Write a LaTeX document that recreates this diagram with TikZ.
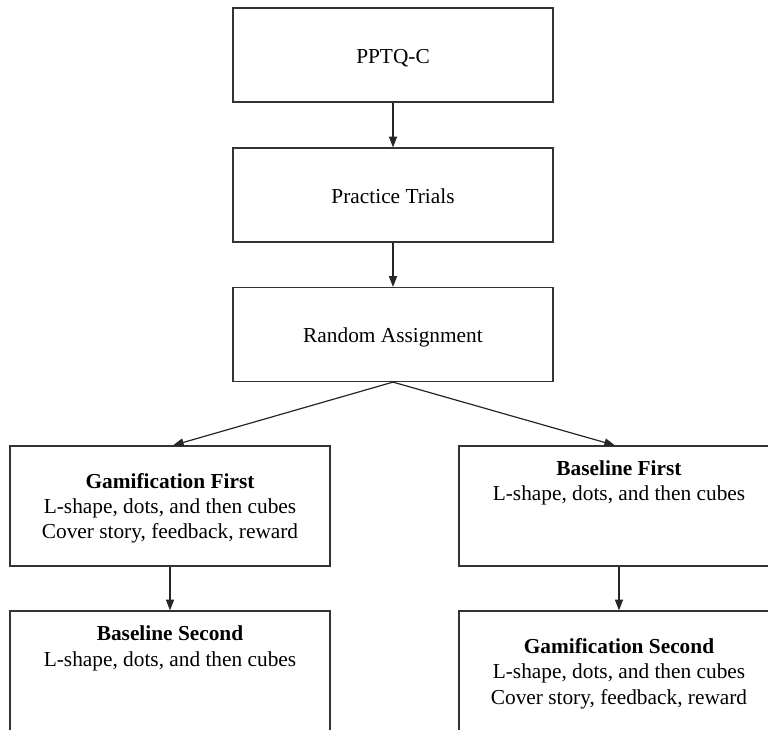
\documentclass[tikz,border=0pt]{standalone}
\usepackage{fontspec}
\setmainfont{Liberation Serif}
\usetikzlibrary{arrows.meta}
\begin{document}
\begin{tikzpicture}[x=0.75pt,y=-0.75pt,
  box/.style={draw=black!80,line width=0.9pt,fill=white,inner sep=0pt,minimum width=240pt},
  topbox/.style={box,minimum height=70.5pt},
  sidebox/.style={box,minimum height=90pt},
  lowbox/.style={box,minimum height=120pt},
  txt/.style={anchor=base,inner sep=0pt,font=\fontsize{16pt}{19pt}\selectfont},
  arr/.style={draw=black!85,line width=0.9pt,-{Triangle[length=8pt,width=6pt]}}]
\clip (0,0) rectangle (768,730);
\fill[white] (0,0) rectangle (768,730);
% boxes
\node[topbox] (pptq) at (393,55) {};
\node[topbox] (prac) at (393,195) {};
\node[topbox] (rand) at (393,334.5) {};
\node[sidebox] (gf) at (170,506) {};
\node[sidebox] (bf) at (619,506) {};
\node[lowbox] (bs) at (170,691) {};
\node[lowbox] (gs) at (619,691) {};
% texts
\node[txt] (t1) at (393,64) {PPTQ-C};
\node[txt] (t2) at (393,204) {Practice Trials};
\node[txt] (t3) at (393,343) {Random Assignment};
\node[txt] (gf1) at (170,489) {\textbf{Gamification First}};
\node[txt] (gf2) at (170,514) {L-shape, dots, and then cubes};
\node[txt] (gf3) at (170,539) {Cover story, feedback, reward};
\node[txt] (bf1) at (619,476) {\textbf{Baseline First}};
\node[txt] (bf2) at (619,501) {L-shape, dots, and then cubes};
\node[txt] (bs1) at (170,641) {\textbf{Baseline Second}};
\node[txt] (bs2) at (170,667) {L-shape, dots, and then cubes};
\node[txt] (gs1) at (619,653) {\textbf{Gamification Second}};
\node[txt] (gs2) at (619,679) {L-shape, dots, and then cubes};
\node[txt] (gs3) at (619,705) {Cover story, feedback, reward};
% connectors
\draw[arr] (pptq.south) -- (prac.north);
\draw[arr] (prac.south) -- (rand.north);
\draw[arr] (rand.south) -- ([xshift=2.25pt]gf.north);
\draw[arr] (rand.south) -- ([xshift=-3pt]bf.north);
\draw[arr] (gf.south) -- (bs.north);
\draw[arr] (bf.south) -- (gs.north);
\end{tikzpicture}
\end{document}
